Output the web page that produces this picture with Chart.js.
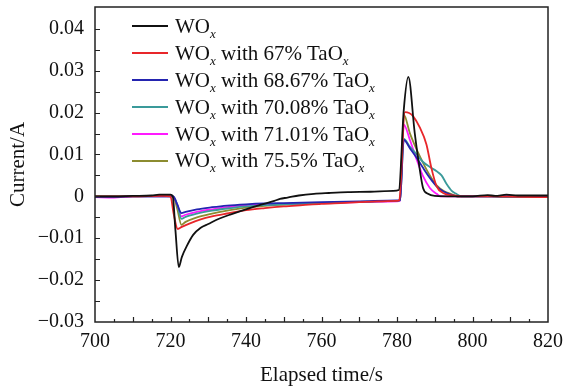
<!DOCTYPE html>
<html>
<head>
<meta charset="utf-8">
<script src="https://cdn.jsdelivr.net/npm/chart.js@4.4.1/dist/chart.umd.min.js"></script>
<style>
    html, body { margin: 0; padding: 0; background: #fff; }
    #wrap { position: relative; width: 579px; height: 388px; }
    #legend {
        position: absolute; left: 132px; top: 13px;
        font-family: "Liberation Serif", "Times New Roman", serif; font-size: 21px; color: #111;
    }
    .row { display: flex; align-items: center; height: 26.9px; }
    .swatch { width: 36px; height: 2px; margin-right: 7px; }
    .row sub { font-style: italic; font-size: 0.62em; line-height: 0; vertical-align: -0.35em; }
</style>
</head>
<body>
<div id="wrap">
    <canvas id="chart" width="579" height="388"></canvas>
    <div id="legend"></div>
</div>
<script>
// series names (TaOx share, null = pure WOx) and colours
const taoxShares = [null, '67', '68.67', '70.08', '71.01', '75.5'];
const lineColors = ['#111111', '#e8262a', '#2424b0', '#3a9a9a', '#ff1aff', '#8c8c30'];

// axis ticks
const xTicks = [700, 720, 740, 760, 780, 800, 820];
const yTicks = [-0.03, -0.02, -0.01, 0, 0.01, 0.02, 0.03, 0.04];

// WOx
const tWO = [700, 705, 710, 715, 717, 720, 720.6, 721.3, 722.2, 723, 724.3, 726, 728, 730, 733, 736, 741, 744, 747.5, 749, 751, 754, 758, 762, 767, 773, 779, 780.5, 781.8, 783, 784.7, 785.9, 786.9, 788.2, 790, 795, 800, 804, 806, 809, 812, 815, 820];
const iWO = [0, 0, 0.0001, 0.0002, 0.0004, 0.0004, 0, -0.008, -0.0169, -0.0145, -0.0119, -0.0092, -0.0075, -0.0066, -0.0053, -0.0043, -0.0028, -0.002, -0.0011, -0.0006, -0.0003, 0.0002, 0.0006, 0.0008, 0.001, 0.0011, 0.0013, 0.0015, 0.0207, 0.0285, 0.0151, 0.0072, 0.002, 0.0006, 0.0001, 0, 0, 0.0003, 0.0001, 0.0004, 0.0002, 0.0002, 0.0002];

// 67% TaOx
const t67 = [700, 710, 718, 720, 720.8, 721.9, 723, 725, 728, 731, 735, 740, 745, 750, 755, 760, 765, 770, 775, 780, 780.6, 782.1, 783.2, 784.3, 786, 787.8, 789.1, 790.5, 792.2, 794.9, 797, 805, 812, 820];
const i67 = [0, 0, 0.0001, 0, -0.004, -0.0078, -0.0073, -0.0065, -0.0055, -0.0048, -0.0041, -0.0033, -0.0028, -0.0024, -0.0021, -0.0018, -0.0016, -0.0014, -0.0012, -0.0011, -0.0009, 0.0201, 0.0199, 0.0191, 0.0165, 0.0124, 0.0068, 0.0024, 0.0008, 0.0002, 0, 0, -0.0001, -0.0002];

// 68.67% TaOx
const t6867 = [700, 705, 710, 718, 720.7, 721.8, 722.9, 724, 727, 731, 735, 740, 745, 750, 760, 770, 780, 780.8, 781.8, 783.4, 785.2, 786.9, 788.7, 790.5, 792.2, 794, 796, 805, 820];
const i6867 = [-0.0002, -0.0002, 0, 0, 0, -0.002, -0.004, -0.0037, -0.0031, -0.0026, -0.0022, -0.0019, -0.0017, -0.0016, -0.0014, -0.0012, -0.001, -0.0009, 0.0135, 0.0115, 0.0092, 0.0068, 0.0044, 0.0024, 0.0012, 0.0005, 0, 0, 0];

// 70.08% TaOx
const t7008 = [700, 710, 718, 720.7, 721.8, 722.9, 724, 727, 731, 735, 740, 745, 750, 760, 770, 780, 780.8, 781.8, 783.4, 785.2, 786.9, 788.7, 790.5, 791.8, 793.1, 794.5, 795.7, 797, 805, 808, 815, 820];
const i7008 = [0, 0, 0, 0, -0.002, -0.0054, -0.0049, -0.0041, -0.0034, -0.0029, -0.0024, -0.0021, -0.0019, -0.0016, -0.0013, -0.0011, -0.0009, 0.0137, 0.0119, 0.01, 0.0082, 0.007, 0.006, 0.005, 0.003, 0.0013, 0.0006, 0, 0, -0.0002, -0.0002, 0];

// 71.01% TaOx
const t7101 = [700, 705, 710, 718, 720.7, 721.8, 722.9, 724, 727, 731, 735, 740, 745, 750, 760, 770, 780, 780.8, 781.8, 783.4, 785.2, 786.9, 788.7, 790.5, 791.5, 800, 810, 820];
const i7101 = [-0.0002, -0.0003, 0, 0, 0, -0.002, -0.0048, -0.0044, -0.0037, -0.0031, -0.0026, -0.0021, -0.0019, -0.0018, -0.0016, -0.0014, -0.0012, -0.0011, 0.0171, 0.0135, 0.0088, 0.0048, 0.002, 0.0006, 0, 0, 0, 0];

// 75.5% TaOx
const t755 = [700, 710, 718, 720.7, 721.8, 722.9, 724, 727, 731, 735, 740, 745, 750, 760, 770, 780, 780.8, 781.8, 783.4, 785.2, 786.9, 788.7, 790.5, 792.5, 794.5, 796, 805, 820];
const i755 = [0, 0, 0.0001, 0, -0.003, -0.0068, -0.0061, -0.005, -0.0041, -0.0034, -0.0027, -0.0023, -0.002, -0.0016, -0.0013, -0.0011, -0.0009, 0.0195, 0.0151, 0.0112, 0.008, 0.005, 0.0026, 0.0012, 0.0005, 0, 0, 0];

const seriesTimes = [tWO, t67, t6867, t7008, t7101, t755];
const seriesCurrents = [iWO, i67, i6867, i7008, i7101, i755];

const FONT = '"Liberation Serif", "Times New Roman", serif';

function labelHTML(share) {
    const wo = 'WO<sub>x</sub>';
    return share === null ? wo : `${wo} with ${share}% TaO<sub>x</sub>`;
}

document.getElementById('legend').innerHTML = taoxShares.map((share, index) => `
    <div class="row">
        <span class="swatch" style="background-color: ${lineColors[index]};"></span>
        <span>${labelHTML(share)}</span>
    </div>`).join('');

// frame + inward ticks (minor ticks every 5 s / 0.005 A)
const frameTicks = {
    id: 'frameTicks',
    afterDraw(chart) {
        const { ctx, chartArea: a, scales: { x, y } } = chart;
        ctx.save();
        ctx.strokeStyle = '#222';
        ctx.lineWidth = 1.5;
        ctx.strokeRect(a.left, a.top, a.right - a.left, a.bottom - a.top);
        ctx.lineWidth = 1.2;
        ctx.beginPath();
        for (let t = 705; t < 820; t += 5) {
            const px = Math.round(x.getPixelForValue(t)) + 0.5;
            const len = t % 10 === 0 ? 5 : 3;
            ctx.moveTo(px, a.bottom);
            ctx.lineTo(px, a.bottom - len);
        }
        for (let k = -5; k <= 8; k++) {
            const py = Math.round(y.getPixelForValue(k * 0.005)) + 0.5;
            ctx.moveTo(a.left, py);
            ctx.lineTo(a.left + 5, py);
        }
        ctx.stroke();
        ctx.restore();
    }
};

new Chart(document.getElementById('chart').getContext('2d'), {
    type: 'line',
    data: {
        datasets: seriesTimes.map((times, index) => ({
            label: taoxShares[index] === null ? 'WOx' : `WOx with ${taoxShares[index]}% TaOx`,
            data: times.map((t, k) => ({ x: t, y: seriesCurrents[index][k] })),
            borderColor: lineColors[index],
            borderWidth: 1.8,
            pointRadius: 0,
            cubicInterpolationMode: 'monotone',
            fill: false,
        }))
    },
    options: {
        responsive: false, animation: false, devicePixelRatio: 1,
        layout: { padding: { left: 0, top: 7, right: 31, bottom: 0 } },
        plugins: { legend: { display: false }, tooltip: { enabled: false } },
        scales: {
            x: {
                type: 'linear', min: 700, max: 820,
                grid: { display: false }, border: { display: false },
                afterBuildTicks: s => { s.ticks = xTicks.map(v => ({ value: v })); },
                afterFit: s => { s.height = 66; s.paddingLeft = 0; s.paddingRight = 0; },
                ticks: { color: '#111', font: { family: FONT, size: 20 }, padding: 0, maxRotation: 0 },
                title: { display: true, text: 'Elapsed time/s', color: '#111', font: { family: FONT, size: 21 }, padding: { top: 1, bottom: 0 } }
            },
            y: {
                min: -0.03, max: 0.0452,
                grid: { display: false }, border: { display: false },
                afterBuildTicks: s => { s.ticks = yTicks.map(v => ({ value: v })); },
                afterFit: s => { s.width = 95; s.paddingTop = 0; s.paddingBottom = 0; },
                ticks: {
                    color: '#111', font: { family: FONT, size: 20 }, padding: 3,
                    callback: v => v === 0 ? '0' : (v < 0 ? '\u2212' : '') + Math.abs(v).toFixed(2)
                },
                title: { display: true, text: 'Current/A', color: '#111', font: { family: FONT, size: 21 }, padding: { top: 6, bottom: 0 } }
            }
        }
    },
    plugins: [frameTicks]
});
</script>
</body>
</html>
